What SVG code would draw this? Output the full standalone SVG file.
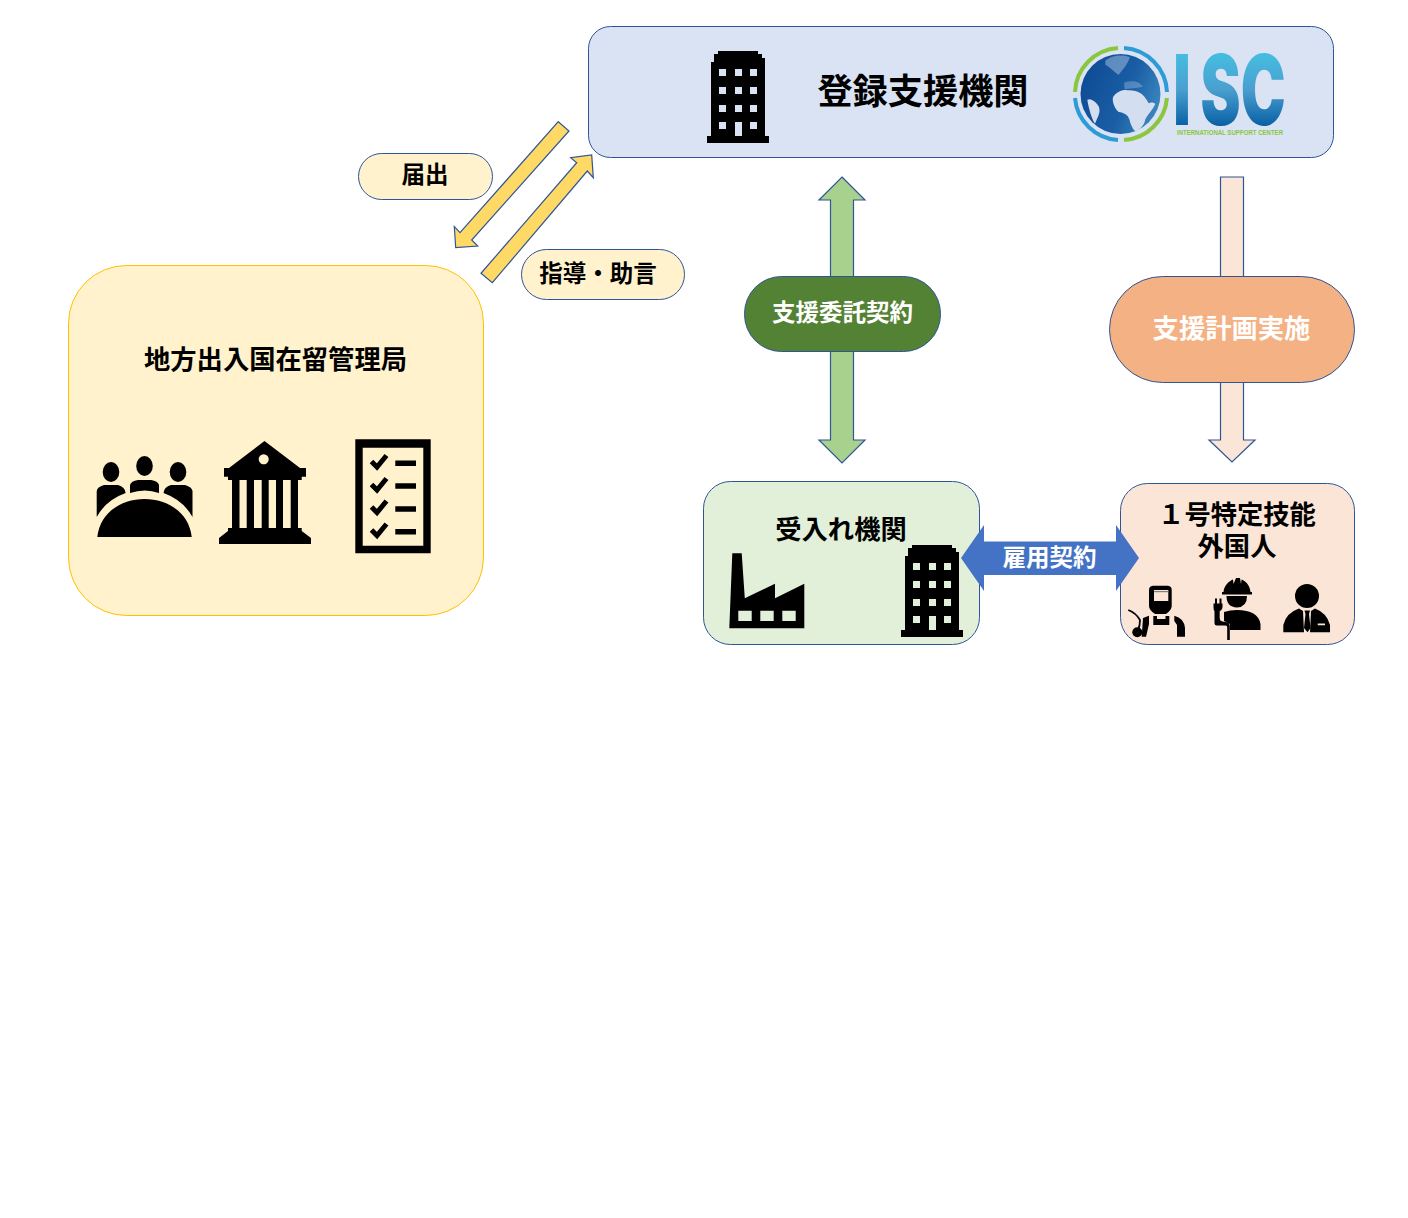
<svg xmlns="http://www.w3.org/2000/svg" width="1408" height="1218" viewBox="0 0 1408 1218">
<style>
.t{font-family:"Noto Sans CJK JP","Noto Sans",sans-serif;font-weight:700;fill:#000;text-anchor:middle;dominant-baseline:central}
.w{fill:#fff}
.box{stroke:#2f5597;stroke-width:1}
.arr{stroke:#2f5597;stroke-width:1.2}
.ico{fill:#000}
.isc{font-family:"Inter","Liberation Sans",sans-serif;font-weight:900;font-size:97px;fill:url(#iscg)}
</style>
<defs>
<linearGradient id="iscg" gradientUnits="userSpaceOnUse" x1="0" y1="-71" x2="0" y2="0"><stop offset="0" stop-color="#45bde0"/><stop offset="0.5" stop-color="#4a9fd0"/><stop offset="1" stop-color="#0a62a6"/></linearGradient>
<linearGradient id="globeg" x1="0" y1="0.2" x2="1" y2="0.6"><stop offset="0" stop-color="#0e4a94"/><stop offset="0.6" stop-color="#1a5ea6"/><stop offset="1" stop-color="#3a86bd"/></linearGradient>
<path id="bld" fill-rule="evenodd" d="M11 0H51V3H55V7H58V85H62V92H0V85H4V11H7V3H11Z
M12 18h7v7h-7z M28 18h7v7h-7z M43 18h7v7h-7z
M12 36h7v7h-7z M28 36h7v7h-7z M43 36h7v7h-7z
M12 54h7v7h-7z M28 54h7v7h-7z M43 54h7v7h-7z
M12 71h7v7h-7z M43 71h7v7h-7z M28 71h7v14h-7z"/>
</defs>

<g id="connectors">
<path class="arr" fill="#ffd966" d="M558.300 121.700L569 131L471.700 240L477.700 246L455.700 247.700L454.300 226.700L460 232.700Z"/>
<path class="arr" fill="#ffd966" d="M481 273.300L492.300 282.700L587.300 171L593.300 177.700L591.700 155L570.700 157.700L576.700 162.700Z"/>
<path class="arr" fill="#a9d18e" d="M842 177L865 200H853.500V440H865L842 463L819 440H830.500V200H819Z"/>
<path class="arr" fill="#fbe5d6" d="M1220.500 177H1243.500V440H1255L1232 462L1209 440H1220.500Z"/>
</g>

<g id="node-registered">
<rect class="box" x="588.500" y="26.500" width="745" height="131" rx="22" fill="#dae3f3"/>
<use href="#bld" x="707" y="51"/>
<text class="t" x="923" y="88" font-size="35.200">登録支援機関</text>
<g id="isc-logo">
<g fill="none" stroke-width="4">
<path stroke="#8cc63f" d="M1075 92A46 46 0 0 1 1118 48"/>
<path stroke="#2f9bd6" d="M1124 48A46 46 0 0 1 1167 92"/>
<path stroke="#8cc63f" d="M1167 98A46 46 0 0 1 1124 140"/>
<path stroke="#2f9bd6" d="M1118 140A46 46 0 0 1 1075 98"/>
</g>
<circle cx="1120.500" cy="94" r="40" fill="url(#globeg)"/>
<g transform="translate(1068 40) scale(.3333)" fill="#d3dff0">
<path d="M135 172C142 158 160 150 172 150C190 152 208 150 222 163C232 172 238 182 242 190C250 186 258 188 262 192C254 210 240 222 232 238C230 254 216 270 204 274C196 272 188 255 184 238C180 224 168 218 152 216C140 206 132 186 135 172Z"/>
<path d="M58 180C66 174 80 182 90 196C97 206 95 220 90 230C84 242 82 252 80 250C70 232 62 204 58 180Z"/>
<path opacity=".4" d="M112 62C130 46 165 42 186 52C180 70 166 88 152 104C140 98 130 84 112 74Z"/>
<path opacity=".3" d="M168 128C190 120 215 124 224 140C205 146 186 144 170 148Z"/>
</g>
<text class="isc" transform="translate(1177 125) scale(.62 1)" x="-6 38 103" y="0">ISC</text>
<text x="1177" y="135" font-family="Liberation Sans,sans-serif" font-weight="700" font-size="6.500" fill="#8cc63f" textLength="106" lengthAdjust="spacingAndGlyphs">INTERNATIONAL SUPPORT CENTER</text>
</g>
</g>

<g id="node-immigration">
<rect x="68.500" y="265.500" width="415" height="350" rx="58" fill="#fff2cc" stroke="#ffc000"/>
<text class="t" x="275.500" y="357" font-size="26.300">地方出入国在留管理局</text>
<g class="ico">
<ellipse cx="111" cy="472" rx="8.300" ry="10"/><ellipse cx="144.500" cy="466" rx="8.300" ry="10"/><ellipse cx="178" cy="472" rx="8.300" ry="10"/>
<path d="M130 493V485Q131 481 138 480H151Q158 481 159 485V493Q145 488 130 493Z"/>
<path d="M96.700 517V491Q97 487 104 485H118Q125 487 125.700 493Q106 500 96.700 517Z"/>
<path d="M192.500 517V491Q192 487 185 485H171Q164 487 163.500 493Q183 500 192.500 517Z"/>
<path d="M97.300 537C100 512 122 499 144.500 499C167 499 189 512 191.700 537Z"/>
</g>
<path class="ico" fill-rule="evenodd" d="M264.500 441L300 468H306V476.700H301.700V480H298V528H301.700V531L311 538V544H219V538L228 531V528H232V480H228V476.700H224V468H229Z
M239.500 480H246.700V528H239.500Z M254 480H261.700V528H254Z M268.700 480H276V528H268.700Z M283 480H290.700V528H283Z
M263.700 454.300a5 5 0 1 0 .01 0Z"/>
<g id="checklist">
<path class="ico" fill-rule="evenodd" d="M355.300 439.300H430.700V553.300H355.300Z M362.700 447.700V545.700H423.300V447.700Z"/>
<path fill="none" stroke="#000" stroke-width="5" d="M371.500 461.500l5.500 5.500l9.500-11.500 M371.500 484.500l5.500 5.500l9.500-11.500 M371.500 507l5.500 5.500l9.500-11.500 M371.500 530l5.500 5.500l9.500-11.500"/>
<path class="ico" d="M395.300 460.500h20.700v5.500h-20.700z M395.300 483.200h20.700v5.500h-20.700z M395.300 506.200h20.700v5.500h-20.700z M395.300 528.900h20.700v5.500h-20.700z"/>
</g>
</g>

<g id="node-notify">
<rect class="box" x="358.500" y="153.500" width="134" height="46" rx="23" fill="#fff2cc"/>
<text class="t" x="425" y="173" font-size="23.500">届出</text>
</g>
<g id="node-guidance">
<rect class="box" x="521.500" y="249.500" width="163" height="50" rx="25" fill="#fff2cc"/>
<text class="t" x="598" y="272" font-size="23.500">指導・助言</text>
</g>
<g id="node-contract">
<rect class="box" x="744.500" y="276.500" width="196" height="75" rx="37" fill="#548235"/>
<text class="t w" x="842.500" y="311" font-size="23.500">支援委託契約</text>
</g>
<g id="node-plan">
<rect class="box" x="1109.500" y="276.500" width="245" height="106" rx="53" fill="#f4b183"/>
<text class="t w" x="1231.500" y="326" font-size="26.300">支援計画実施</text>
</g>

<g id="node-host">
<rect class="box" x="703.500" y="481.500" width="276" height="163" rx="27" fill="#e2f0d9"/>
<text class="t" x="841" y="527" font-size="26.300">受入れ機関</text>
<path class="ico" fill-rule="evenodd" d="M732.300 553.300H741.700L744.800 598.300L775 583.700V598.300L804.300 583.700V628.300H729.300Z
M738.300 610.700H751.700V621H738.300Z M760.300 610.700H773.700V621H760.300Z M782.300 610.700H795.700V621H782.300Z"/>
<use href="#bld" x="901" y="545"/>
</g>

<g id="node-workers">
<rect class="box" x="1120.500" y="483.500" width="234" height="161" rx="27" fill="#fbe5d6"/>
<text class="t" font-size="26.300"><tspan x="1237" y="512">１号特定技能</tspan><tspan x="1237" y="544">外国人</tspan></text>
<g id="welder">
<path class="ico" fill-rule="evenodd" d="M1153 585.700H1168Q1171.700 586 1171.700 590V606Q1171.700 610 1166 614H1155Q1149 610 1149 606V590Q1149 586 1153 585.700Z M1154 590V601H1168.300V590Z"/>
<path fill="#7f7f7f" d="M1154 591h14.300v1.200h-14.300z"/>
<path class="ico" d="M1153.300 616H1157V619H1165.500V616H1169.300V625H1153.300Z"/>
<path class="ico" d="M1174.300 615.700Q1184 618 1185 628V636.700H1177V625L1174.300 621Z"/>
<path class="ico" d="M1149 615.700L1143 618L1141.700 636.700H1146L1149 624Z"/>
<circle class="ico" cx="1137.300" cy="632.300" r="5"/>
<path fill="none" stroke="#000" stroke-width="1.800" d="M1128.300 610Q1136 613 1140 620Q1140 626 1138 630"/>
</g>
<g id="electrician">
<path class="ico" d="M1223.500 592C1224 585 1230 580.500 1233 579.500L1233.500 584L1236 578H1240L1241 584L1241.500 579.500C1246 581 1250 586 1250.500 592H1252V594.500H1222V592Z"/>
<path class="ico" d="M1226.500 596H1247Q1247 607 1237 607.500Q1226.500 607 1226.500 596Z"/>
<path class="ico" d="M1224 612Q1230 610 1237 610Q1258 610 1260.500 624V630H1230V624L1224 621Z"/>
<path fill="none" stroke="#000" stroke-width="2" d="M1216 604V598.500M1220.500 604V598.500"/>
<path class="ico" d="M1213.500 603.500H1222.500V607Q1222 610.500 1219.700 611V618Q1219.700 621 1222.500 621.500L1228 622.500Q1229.800 623 1229.800 626V640H1227.200V627Q1227.200 625.500 1225.500 625.500H1217Q1214.500 625.500 1214.500 623V611Q1213.500 610 1213.500 607Z"/>
</g>
<g id="suit">
<circle class="ico" cx="1307" cy="596" r="12"/>
<path class="ico" fill-rule="evenodd" d="M1299 608.500L1303 611L1304 632.300H1283.300V625Q1286 613 1299 608.500Z
M1315 608.500L1311 611L1310 632.300H1330V625Q1327 613 1315 608.500Z M1317.700 623.500V625.200H1325V623.500Z"/>
<path class="ico" d="M1304.500 610.500H1310L1309 614L1310.500 628L1307.500 632.300L1304 628L1305.500 614Z"/>
</g>
</g>

<g id="connector-employment">
<path fill="#4472c4" d="M961 558L984 525V541.500H1116V525L1139 558L1116 591V575H984V591Z"/>
<text class="t w" x="1049.500" y="556" font-size="23.500">雇用契約</text>
</g>
</svg>
